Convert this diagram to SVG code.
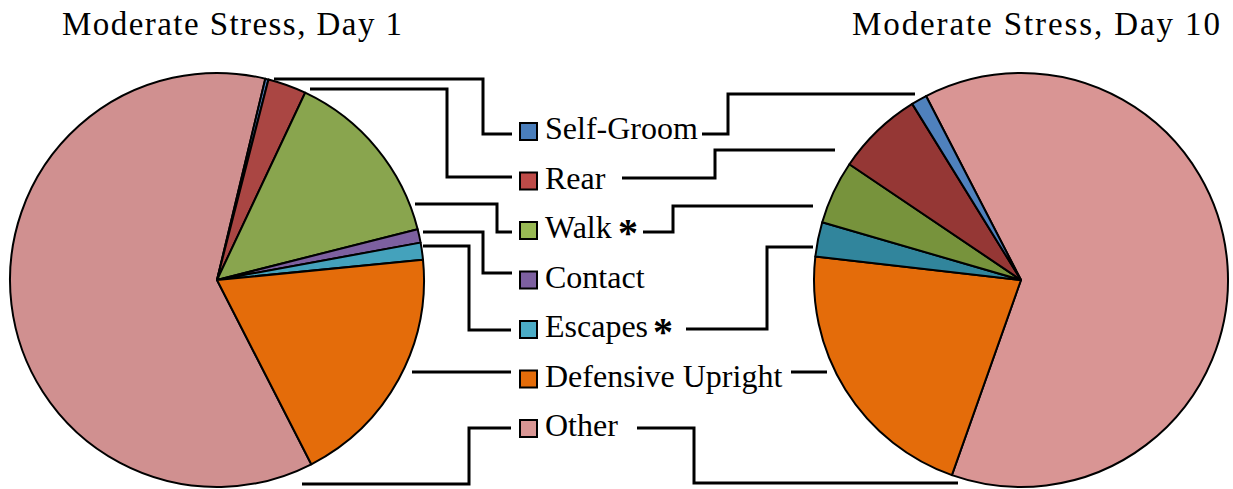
<svg xmlns="http://www.w3.org/2000/svg" width="1233" height="489" viewBox="0 0 1233 489">
<style>
.t{font-family:"Liberation Serif","Times New Roman",serif;fill:#000}
.ttl{font-size:33px}
.lg{font-size:32px}
.ast{font-size:40px;font-weight:bold}
.sl{stroke:#000;stroke-width:2;stroke-linejoin:round}
.sq{stroke:#000;stroke-width:2}
.cn{fill:none;stroke:#000;stroke-width:3}
</style>
<rect width="1233" height="489" fill="#fff"/>
<g id="title-day1"><text class="t ttl" x="62" y="35" textLength="340" lengthAdjust="spacing">Moderate Stress, Day 1</text></g>
<g id="title-day10"><text class="t ttl" x="852" y="35" textLength="368" lengthAdjust="spacing">Moderate Stress, Day 10</text></g>

<g id="pie-day1">
<path class="sl" fill="#D09090" d="M217,280 L311.29,464.27 A207,207 0 1 1 265.32,78.71 Z"/>
<path class="sl" fill="#4F81BD" d="M217,280 L265.32,78.71 A207,207 0 0 1 268.48,79.5 Z"/>
<path class="sl" fill="#AA4643" d="M217,280 L268.48,79.5 A207,207 0 0 1 305.14,92.71 Z"/>
<path class="sl" fill="#89A54E" d="M217,280 L305.14,92.71 A207,207 0 0 1 417.67,229.22 Z"/>
<path class="sl" fill="#7D60A0" d="M217,280 L417.67,229.22 A207,207 0 0 1 420.61,242.64 Z"/>
<path class="sl" fill="#44A2BC" d="M217,280 L420.61,242.64 A207,207 0 0 1 423.01,259.8 Z"/>
<path class="sl" fill="#E46C0A" d="M217,280 L423.01,259.8 A207,207 0 0 1 311.29,464.27 Z"/>
</g>

<g id="pie-day10">
<path class="sl" fill="#D99594" d="M1021,280 L926.05,96.06 A207,207 0 1 1 951.9,475.12 Z"/>
<path class="sl" fill="#E46C0A" d="M1021,280 L951.9,475.12 A207,207 0 0 1 815.33,256.57 Z"/>
<path class="sl" fill="#31859C" d="M1021,280 L815.33,256.57 A207,207 0 0 1 822.22,222.25 Z"/>
<path class="sl" fill="#77933C" d="M1021,280 L822.22,222.25 A207,207 0 0 1 849.39,164.25 Z"/>
<path class="sl" fill="#953735" d="M1021,280 L849.39,164.25 A207,207 0 0 1 912.22,103.88 Z"/>
<path class="sl" fill="#4F81BD" d="M1021,280 L912.22,103.88 A207,207 0 0 1 926.05,96.06 Z"/>
</g>

<g id="connectors">
<path class="cn" d="M274,79 H483 V134 H512"/>
<path class="cn" d="M310,89 H447 V177 H512"/>
<path class="cn" d="M415,204 H497 V232 H512"/>
<path class="cn" d="M423,232 H483 V273 H512"/>
<path class="cn" d="M423,246 H469 V330 H511"/>
<path class="cn" d="M412,372 H511"/>
<path class="cn" d="M511,428 H469 V484 H302"/>
<path class="cn" d="M702,134 H728 V94 H915"/>
<path class="cn" d="M622,178 H715 V150 H835"/>
<path class="cn" d="M643,232 H673 V206 H813"/>
<path class="cn" d="M686,329 H767 V247 H813"/>
<path class="cn" d="M791,372 H827"/>
<path class="cn" d="M637,428 H694 V483 H958"/>
</g>

<g id="legend-self-groom"><rect class="sq" x="520" y="123" width="17" height="17" fill="#4A7EBB"/><text class="t lg" x="545" y="139">Self-Groom</text></g>
<g id="legend-rear"><rect class="sq" x="520" y="172.5" width="17" height="17" fill="#BE4B48"/><text class="t lg" x="545" y="188.5">Rear</text></g>
<g id="legend-walk"><rect class="sq" x="520" y="222" width="17" height="17" fill="#98B954"/><text class="t lg" x="545" y="238">Walk</text><text class="t ast" x="618" y="246">*</text></g>
<g id="legend-escapes"><rect class="sq" x="520" y="321" width="17" height="17" fill="#4BACC6"/><text class="t lg" x="545" y="337">Escapes</text><text class="t ast" x="653" y="345">*</text></g>
<g id="legend-contact"><rect class="sq" x="520" y="271.5" width="17" height="17" fill="#7D60A0"/><text class="t lg" x="545" y="287.5">Contact</text></g>
<g id="legend-defensive"><rect class="sq" x="520" y="370.5" width="17" height="17" fill="#E46C0A"/><text class="t lg" x="545" y="386.5">Defensive Upright</text></g>
<g id="legend-other"><rect class="sq" x="520" y="420" width="17" height="17" fill="#D99694"/><text class="t lg" x="545" y="436">Other</text></g>
</svg>
